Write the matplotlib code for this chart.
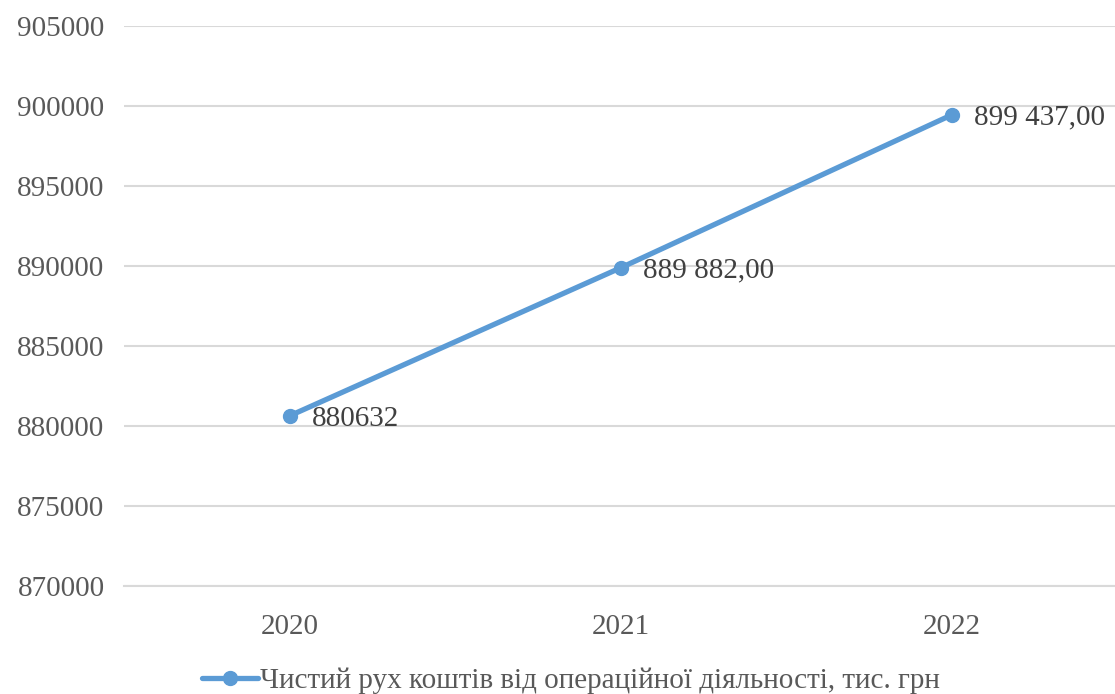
import matplotlib
matplotlib.use("Agg")
import matplotlib.pyplot as plt

years = ["2020", "2021", "2022"]
values = [880632, 889882, 899437]
value_labels = ["880632", "889 882,00", "899 437,00"]
series_name = "Чистий рух коштів від операційної діяльності, тис. грн"
y_ticks = [870000, 875000, 880000, 885000, 890000, 895000, 900000, 905000]

plt.rcParams["font.family"] = ["Liberation Serif", "DejaVu Serif"]

fig = plt.figure(figsize=(11.15, 6.94), dpi=100)
ax = fig.add_axes([124 / 1115, 108 / 694, 993 / 1115, 560 / 694])

x = list(range(len(years)))
line_color = "#5B9BD5"
ax.plot(x, values, color=line_color, lw=3.8, marker="o", ms=10,
        solid_capstyle="round", label=series_name, zorder=3, clip_on=False)

for xi, v, lab in zip(x, values, value_labels):
    ax.annotate(lab, (xi, v), xytext=(16, -2), textcoords="offset points",
                ha="left", va="center", fontsize=21, color="#404040")

ax.set_xlim(-0.5, 2.5)
ax.set_ylim(870000, 905000)
ax.set_yticks(y_ticks)
ax.set_yticklabels([str(t) for t in y_ticks])
ax.set_xticks(x)
ax.set_xticklabels(years)
ax.grid(axis="y", color="#D9D9D9", lw=1.5)
ax.set_axisbelow(True)
for s in ax.spines.values():
    s.set_visible(False)
ax.spines["bottom"].set_visible(True)
ax.spines["bottom"].set_color("#D9D9D9")
ax.spines["bottom"].set_linewidth(1.5)
ax.tick_params(axis="both", length=0, labelsize=21, labelcolor="#595959")
ax.tick_params(axis="y", pad=14)
ax.tick_params(axis="x", pad=20)

fig.legend(loc="center", bbox_to_anchor=(571 / 1115, 1 - 681 / 694),
           frameon=False, fontsize=21, handlelength=1.9, handletextpad=0.08,
           labelcolor="#595959")

fig.savefig("out.png", dpi=100)
